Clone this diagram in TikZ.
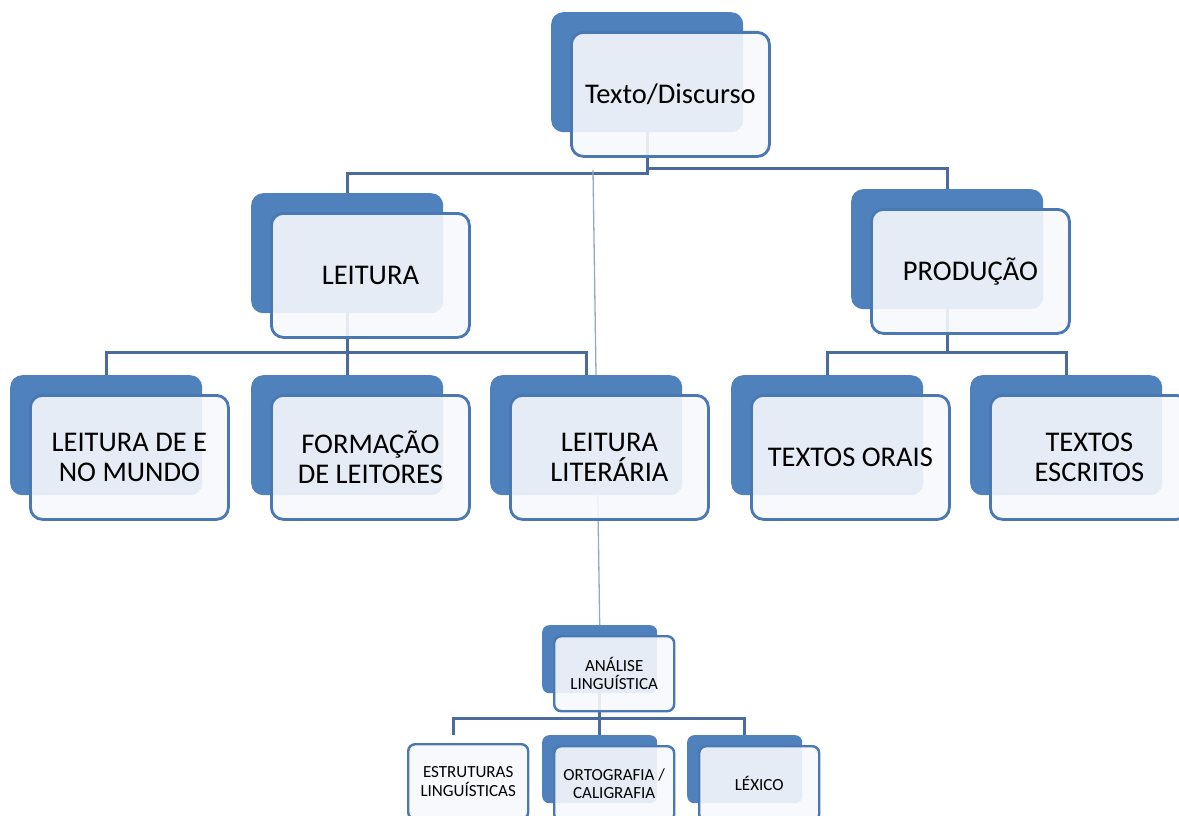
\documentclass[tikz,border=0pt]{standalone}
\usepackage{fontspec}
\setmainfont{Carlito}
\usetikzlibrary{positioning}
\definecolor{azul}{HTML}{4F81BD}
\definecolor{borda}{HTML}{4A78B2}
\definecolor{cligacao}{HTML}{4A6B9C}
\definecolor{claro}{HTML}{F6F8FC}
\definecolor{cfio}{HTML}{93A8CB}
\pgfdeclarelayer{fundos}
\pgfsetlayers{fundos,main}

\begin{document}
\begin{tikzpicture}[x=1pt, y=-1pt,
    fundo/.style={fill=azul, rounded corners=12pt, inner sep=0pt, anchor=north west,
      minimum width=192pt, minimum height=120pt},
    frente/.style={draw=borda, line width=2.8pt, fill=claro, fill opacity=0.9, text opacity=1,
      rounded corners=12pt, inner sep=0pt, anchor=north west, align=center,
      minimum width=198pt, minimum height=124pt, font=\fontsize{28.5}{29.5}\selectfont},
    fundop/.style={fundo, rounded corners=7pt, minimum width=115pt, minimum height=68pt},
    frentep/.style={frente, line width=2.4pt, rounded corners=7pt,
      minimum width=120pt, minimum height=75pt, font=\fontsize{17}{18.5}\selectfont},
    ramo/.style={draw=cligacao, line width=3pt},
    fino/.style={draw=cfio, line width=1.3pt}]
  \useasboundingbox (0,0) rectangle (1179,816);

  % --- topo ---
  \node[fundo]  (texto)   at (551,12) {};
  \node[frente] (texto-f) at (570,31) {Texto/Discurso};

  % --- leitura / producao ---
  \node[fundo]  (leitura)    at (251,193) {};
  \node[frente] (leitura-f)  at (270,212) {LEITURA};
  \node[fundo]  (producao)   at (851,189) {};
  \node[frente] (producao-f) at (870,208) {PRODUÇÃO};

  % --- terceiro nivel ---
  \node[fundo]  (mundo)       at (10,375)  {};
  \node[frente] (mundo-f)     at (29,394)  {LEITURA DE E\\NO MUNDO};
  \node[fundo]  (formacao)    at (251,375) {};
  \node[frente] (formacao-f)  at (270,394) {FORMAÇÃO\\DE LEITORES};
  \node[fundo]  (literaria)   at (490,375) {};
  \node[frente] (literaria-f) at (509,394) {LEITURA\\LITERÁRIA};
  \node[fundo]  (orais)       at (731,375) {};
  \node[frente] (orais-f)     at (750,394) {TEXTOS ORAIS};
  \node[fundo]  (escritos)    at (970,375) {};
  \node[frente] (escritos-f)  at (989,394) {TEXTOS\\ESCRITOS};

  % --- analise linguistica ---
  \node[fundop]  (analise)      at (542,625) {};
  \node[frentep] (analise-f)    at (553,635) {ANÁLISE\\LINGUÍSTICA};
  \coordinate    (estruturas)   at (453,735);
  \node[frentep] (estruturas-f) at (407,743) {ESTRUTURAS\\LINGUÍSTICAS};
  \node[fundop]  (ortografia)   at (542,735) {};
  \node[frentep] (ortografia-f) at (553,745) {ORTOGRAFIA /\\CALIGRAFIA};
  \node[fundop]  (lexico)       at (687,735) {};
  \node[frentep] (lexico-f)     at (698,745) {LÉXICO};

  % --- ligacoes ---
  \begin{pgfonlayer}{fundos}
    \draw[ramo] (texto.south) -- ++(0,41) -| (leitura);
    \draw[ramo] (texto.south) -- ++(0,36) -| (producao);
    \foreach \filho in {mundo, formacao, literaria}
      \draw[ramo] (leitura.south) -- ++(0,39) -| (\filho);
    \foreach \filho in {orais, escritos}
      \draw[ramo] (producao.south) -- ++(0,43) -| (\filho);
    \foreach \filho in {estruturas, ortografia, lexico}
      \draw[ramo] (analise.south) -- ++(0,25) -| (\filho);
    \coordinate (fio-topo) at (593,170);
    \draw[fino] (fio-topo) -- (analise.north);
  \end{pgfonlayer}
\end{tikzpicture}
\end{document}
